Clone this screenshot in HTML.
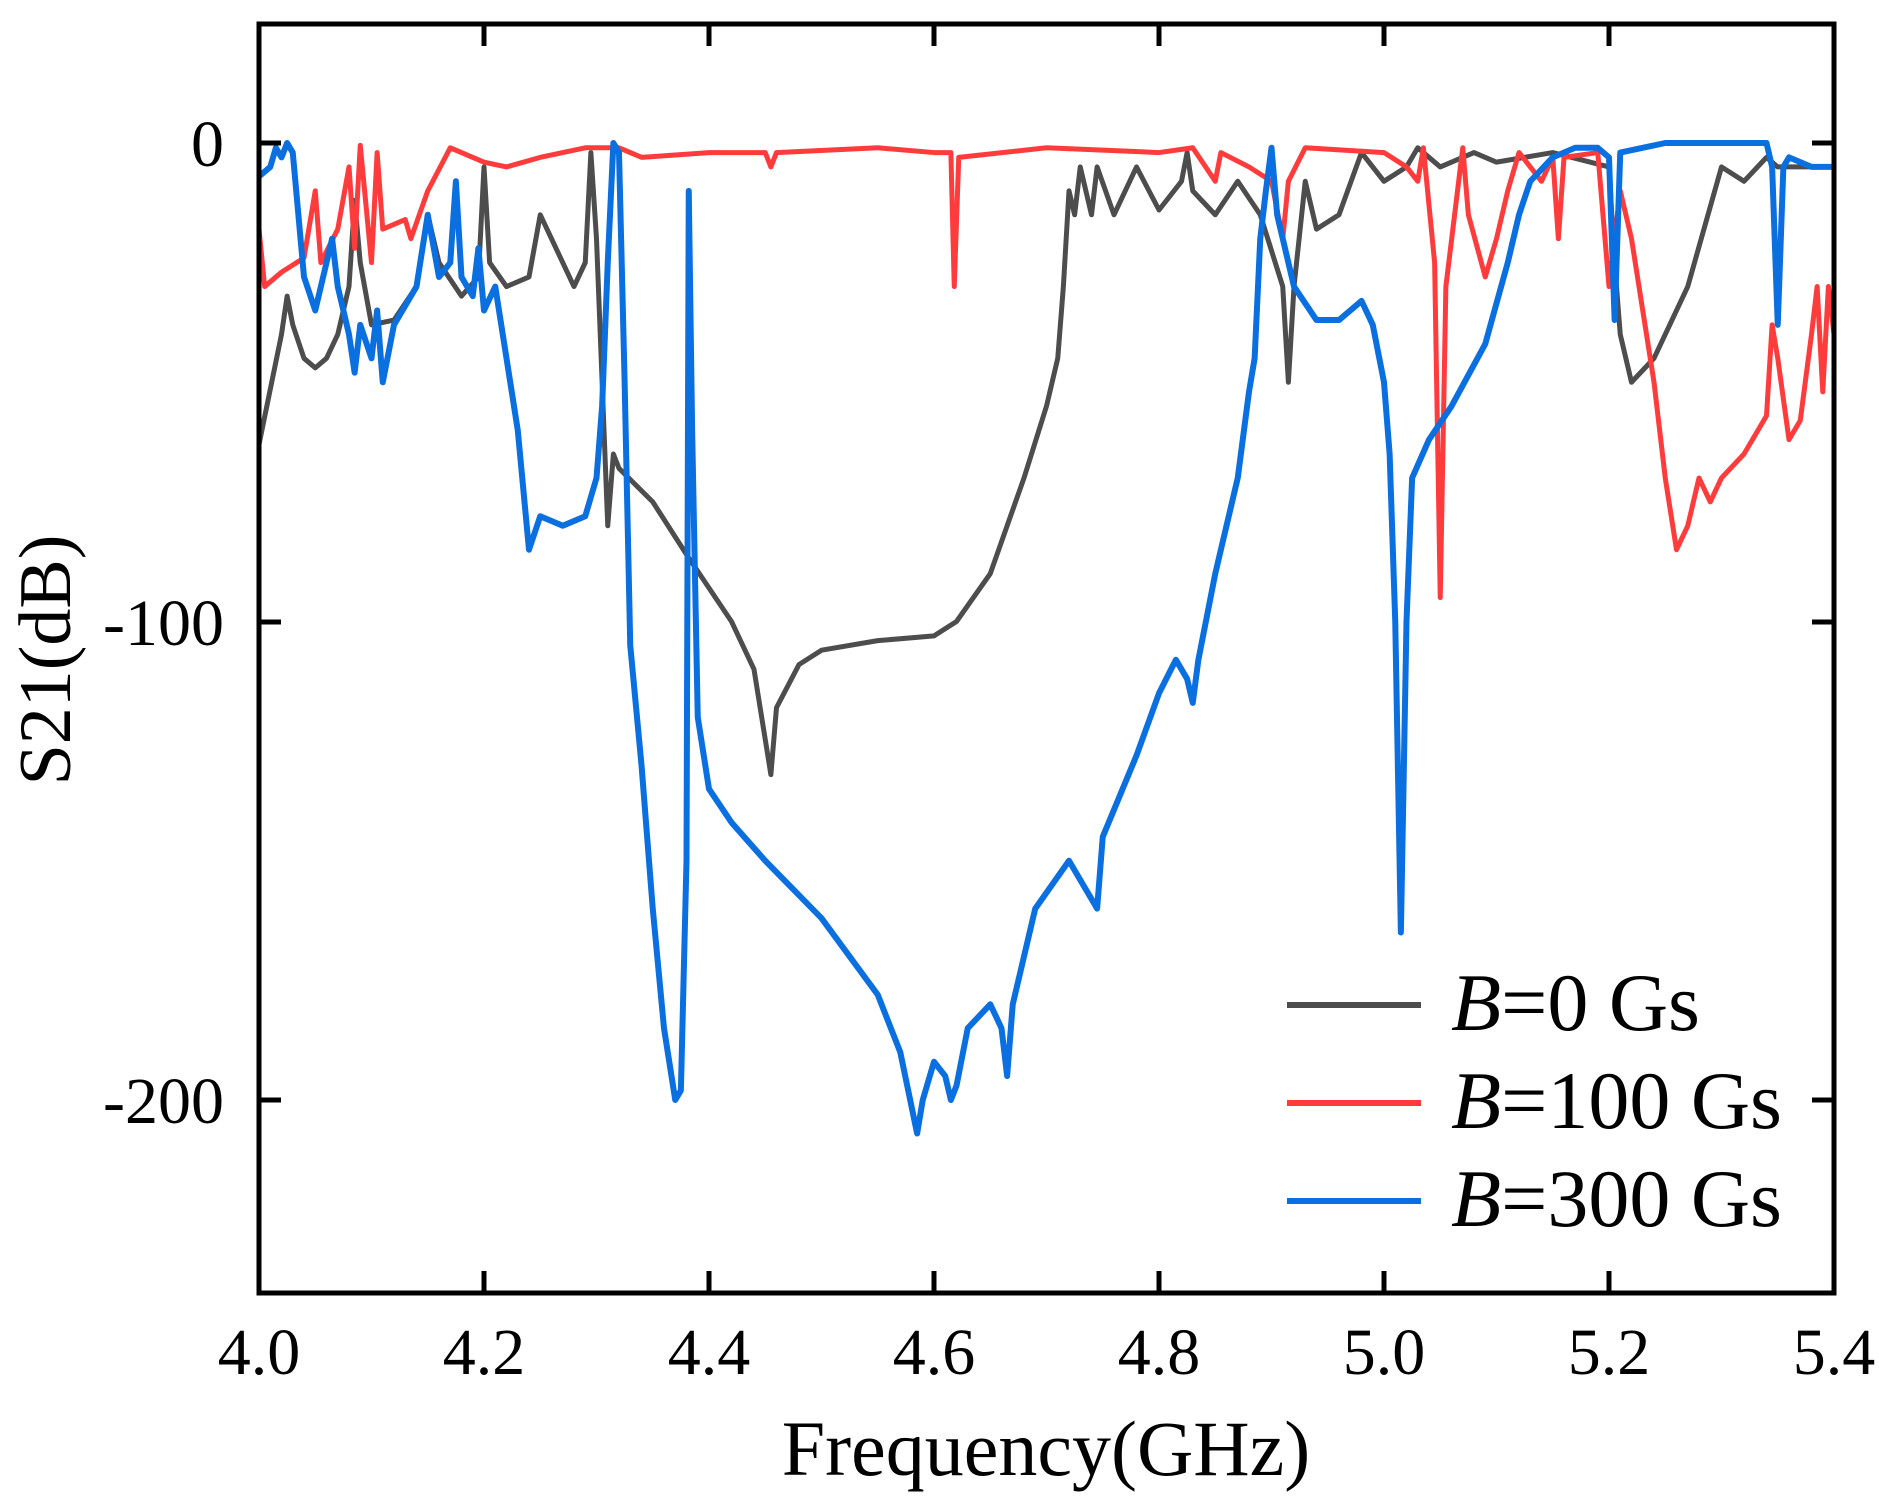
<!DOCTYPE html>
<html><head><meta charset="utf-8"><style>
html,body{margin:0;padding:0;background:#fff;}
svg{display:block;}
text{font-family:"Liberation Serif",serif;fill:#000;}
</style></head><body>
<svg width="1879" height="1499" viewBox="0 0 1879 1499" xmlns="http://www.w3.org/2000/svg">
<defs><clipPath id="c"><rect x="259" y="24" width="1575" height="1269"/></clipPath></defs>
<g clip-path="url(#c)">
<g transform="translate(-4241,143) scale(1125,-4.785)" fill="none" stroke-linejoin="round">
<polyline vector-effect="non-scaling-stroke" stroke="#4d4d4d" stroke-width="5" points="4.00,-63 4.02,-40 4.025,-32 4.03,-38 4.04,-45 4.05,-47 4.06,-45 4.07,-40 4.08,-30 4.085,-12 4.09,-25 4.10,-38 4.12,-37 4.14,-30 4.15,-15 4.16,-25 4.18,-32 4.195,-28 4.2,-5 4.205,-25 4.22,-30 4.24,-28 4.25,-15 4.26,-20 4.28,-30 4.29,-25 4.295,-2 4.30,-20 4.31,-80 4.315,-65 4.32,-68 4.35,-75 4.38,-86 4.40,-93 4.42,-100 4.44,-110 4.455,-132 4.46,-118 4.48,-109 4.50,-106 4.55,-104 4.60,-103 4.62,-100 4.65,-90 4.68,-70 4.70,-55 4.71,-45 4.715,-30 4.72,-10 4.725,-15 4.73,-5 4.74,-15 4.745,-5 4.76,-15 4.78,-5 4.80,-14 4.82,-8 4.825,-2 4.83,-10 4.85,-15 4.87,-8 4.89,-15 4.91,-30 4.915,-50 4.92,-30 4.93,-8 4.94,-18 4.96,-15 4.98,-2 5.0,-8 5.02,-5 5.03,-1 5.05,-5 5.08,-2 5.1,-4 5.15,-2 5.2,-5 5.205,-25 5.21,-40 5.22,-50 5.24,-45 5.27,-30 5.3,-5 5.32,-8 5.34,-3 5.35,-5 5.4,-5"/>
<polyline vector-effect="non-scaling-stroke" stroke="#ff3b3b" stroke-width="5" points="4.00,-18 4.005,-30 4.02,-27 4.04,-24 4.05,-10 4.055,-25 4.07,-18 4.08,-5 4.085,-22 4.09,-0.5 4.10,-25 4.105,-2 4.11,-18 4.13,-16 4.135,-20 4.15,-10 4.17,-1 4.20,-4 4.22,-5 4.25,-3 4.29,-1 4.32,-1 4.34,-3 4.40,-2 4.45,-2 4.455,-5 4.46,-2 4.55,-1 4.60,-2 4.615,-2 4.618,-30 4.622,-3 4.70,-1 4.80,-2 4.83,-1 4.85,-8 4.855,-2 4.88,-5 4.90,-8 4.91,-20 4.915,-8 4.93,-1 5.0,-2 5.02,-5 5.03,-8 5.035,-1 5.045,-25 5.05,-95 5.055,-30 5.07,-1 5.075,-15 5.09,-28 5.10,-20 5.11,-10 5.12,-2 5.14,-8 5.15,-3 5.155,-20 5.16,-3 5.19,-2 5.20,-30 5.21,-10 5.22,-20 5.24,-50 5.25,-70 5.26,-85 5.27,-80 5.28,-70 5.29,-75 5.30,-70 5.32,-65 5.34,-57 5.345,-38 5.35,-45 5.36,-62 5.37,-58 5.38,-40 5.385,-30 5.39,-52 5.395,-30 5.4,-40"/>
<polyline vector-effect="non-scaling-stroke" stroke="#0a6fe0" stroke-width="6" points="4.00,-7 4.01,-5 4.015,-1 4.02,-3 4.025,0 4.03,-2 4.04,-28 4.05,-35 4.06,-25 4.065,-20 4.07,-30 4.08,-40 4.085,-48 4.09,-38 4.10,-45 4.105,-35 4.11,-50 4.12,-38 4.14,-30 4.15,-15 4.16,-28 4.17,-25 4.175,-8 4.18,-28 4.19,-32 4.195,-22 4.20,-35 4.21,-30 4.22,-45 4.23,-60 4.24,-85 4.25,-78 4.27,-80 4.29,-78 4.30,-70 4.305,-55 4.31,-25 4.315,0 4.32,-2 4.325,-50 4.33,-105 4.34,-130 4.35,-160 4.36,-185 4.37,-200 4.375,-198 4.38,-150 4.382,-10 4.385,-60 4.39,-120 4.40,-135 4.42,-142 4.45,-150 4.50,-162 4.55,-178 4.57,-190 4.585,-207 4.59,-200 4.60,-192 4.61,-195 4.615,-200 4.62,-197 4.63,-185 4.65,-180 4.66,-185 4.665,-195 4.67,-180 4.69,-160 4.72,-150 4.74,-158 4.745,-160 4.75,-145 4.78,-128 4.80,-115 4.815,-108 4.825,-112 4.83,-117 4.835,-108 4.85,-90 4.87,-70 4.88,-52 4.885,-45 4.89,-20 4.895,-10 4.90,-1 4.905,-15 4.91,-20 4.92,-30 4.94,-37 4.96,-37 4.98,-33 4.99,-38 5.00,-50 5.005,-65 5.01,-100 5.015,-165 5.02,-100 5.025,-70 5.04,-62 5.06,-55 5.09,-42 5.11,-25 5.12,-15 5.13,-8 5.15,-3 5.17,-1 5.19,-1 5.20,-3 5.205,-37 5.21,-2 5.25,0 5.30,0 5.34,0 5.345,-5 5.35,-38 5.355,-5 5.36,-3 5.38,-5 5.40,-5"/>
</g>
</g>
<rect x="259" y="24" width="1575" height="1269" fill="none" stroke="#000" stroke-width="5"/>
<g stroke="#000" stroke-width="5">
<line x1="484" y1="24" x2="484" y2="46"/><line x1="709" y1="24" x2="709" y2="46"/><line x1="934" y1="24" x2="934" y2="46"/><line x1="1159" y1="24" x2="1159" y2="46"/><line x1="1384" y1="24" x2="1384" y2="46"/><line x1="1609" y1="24" x2="1609" y2="46"/>
<line x1="484" y1="1293" x2="484" y2="1271"/><line x1="709" y1="1293" x2="709" y2="1271"/><line x1="934" y1="1293" x2="934" y2="1271"/><line x1="1159" y1="1293" x2="1159" y2="1271"/><line x1="1384" y1="1293" x2="1384" y2="1271"/><line x1="1609" y1="1293" x2="1609" y2="1271"/>
<line x1="259" y1="143" x2="281" y2="143"/><line x1="259" y1="622" x2="281" y2="622"/><line x1="259" y1="1100" x2="281" y2="1100"/>
<line x1="1834" y1="143" x2="1812" y2="143"/><line x1="1834" y1="622" x2="1812" y2="622"/><line x1="1834" y1="1100" x2="1812" y2="1100"/>
</g>
<g font-size="66" text-anchor="middle">
<text x="259" y="1374">4.0</text><text x="484" y="1374">4.2</text><text x="709" y="1374">4.4</text><text x="934" y="1374">4.6</text><text x="1159" y="1374">4.8</text><text x="1384" y="1374">5.0</text><text x="1609" y="1374">5.2</text><text x="1834" y="1374">5.4</text>
</g>
<g font-size="66" text-anchor="end">
<text x="224" y="166">0</text><text x="224" y="645">-100</text><text x="224" y="1123">-200</text>
</g>
<text x="1046" y="1475" font-size="78" text-anchor="middle">Frequency(GHz)</text>
<text transform="translate(70,660) rotate(-90)" font-size="74" text-anchor="middle">S21(dB)</text>
<g stroke-width="6">
<line x1="1287" y1="1005" x2="1421" y2="1005" stroke="#4d4d4d"/>
<line x1="1287" y1="1103" x2="1421" y2="1103" stroke="#ff3b3b"/>
<line x1="1287" y1="1201" x2="1421" y2="1201" stroke="#0a6fe0"/>
</g>
<g font-size="82">
<text x="1451" y="1030"><tspan font-style="italic">B</tspan>=0 Gs</text>
<text x="1451" y="1128"><tspan font-style="italic">B</tspan>=100 Gs</text>
<text x="1451" y="1226"><tspan font-style="italic">B</tspan>=300 Gs</text>
</g>
</svg>
</body></html>
